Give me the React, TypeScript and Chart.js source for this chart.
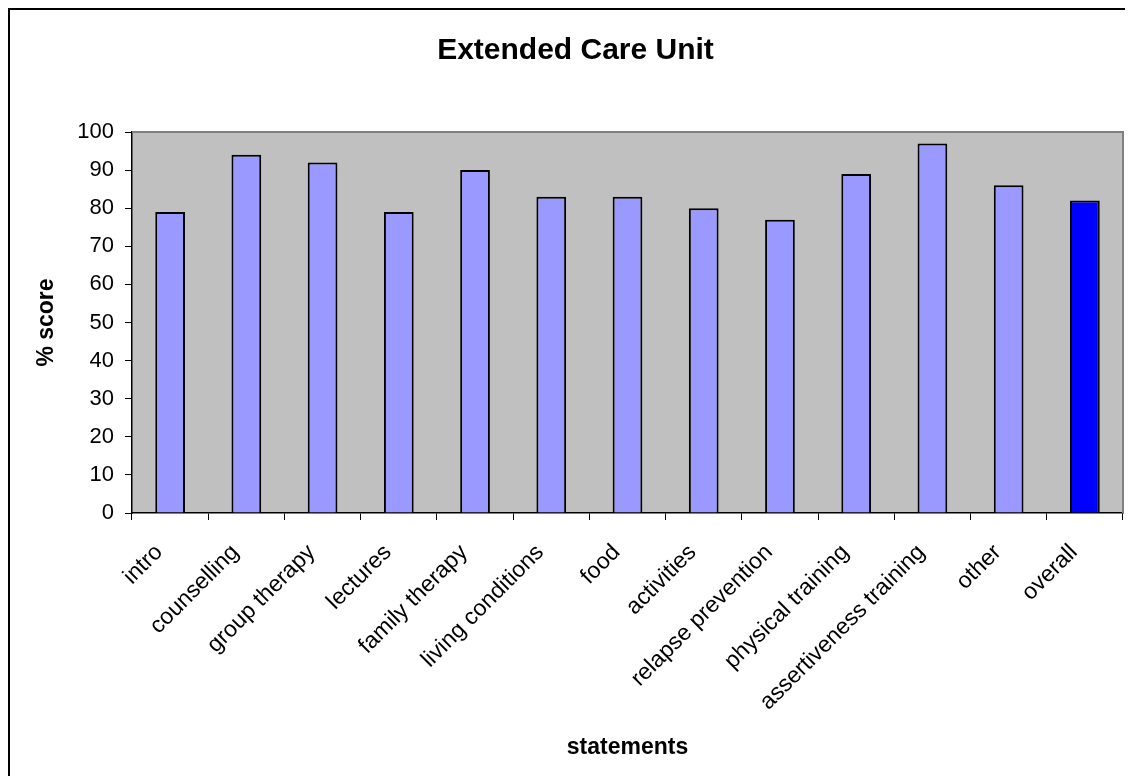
import React, { useEffect, useRef } from "react";
import { Chart, registerables } from "chart.js";

Chart.register(...registerables);

const chartTitle = "Extended Care Unit";
const xAxisTitle = "statements";
const yAxisTitle = "% score";
const categories = [
  "intro",
  "counselling",
  "group therapy",
  "lectures",
  "family therapy",
  "living conditions",
  "food",
  "activities",
  "relapse prevention",
  "physical training",
  "assertiveness training",
  "other",
  "overall",
];
const scores = [79, 94, 92, 79, 90, 83, 83, 80, 77, 89, 97, 86, 82];
const highlighted = ["overall"];
const yMin = 0;
const yMax = 100;
const yStep = 10;

const FONT = "'Liberation Sans', Arial, Helvetica, sans-serif";

const plotBackground = {
  id: "plotBackground",
  beforeDraw(chart: any) {
    const { ctx, chartArea } = chart;
    if (!chartArea) return;
    ctx.save();
    ctx.fillStyle = "#C0C0C0";
    ctx.fillRect(chartArea.left, chartArea.top, chartArea.right - chartArea.left, chartArea.bottom - chartArea.top);
    ctx.restore();
  },
  beforeDatasetsDraw(chart: any) {
    const { ctx, chartArea } = chart;
    if (!chartArea) return;
    ctx.save();
    ctx.strokeStyle = "#808080";
    ctx.lineWidth = 2;
    ctx.beginPath();
    ctx.moveTo(chartArea.left, chartArea.top);
    ctx.lineTo(chartArea.right, chartArea.top);
    ctx.lineTo(chartArea.right, chartArea.bottom);
    ctx.stroke();
    ctx.restore();
  },
};

export default function App() {
  const canvasRef = useRef<HTMLCanvasElement | null>(null);

  useEffect(() => {
    if (!canvasRef.current) return;
    const colors = categories.map((c) => (highlighted.includes(c) ? "#0000FF" : "#9999FF"));
    const chart = new Chart(canvasRef.current, {
      type: "bar",
      data: {
        labels: categories,
        datasets: [
          {
            label: yAxisTitle,
            data: scores,
            backgroundColor: colors,
            borderColor: "#000000",
            borderWidth: 2,
            barPercentage: 0.39,
            categoryPercentage: 1,
          },
        ],
      },
      plugins: [plotBackground],
      options: {
        animation: false,
        responsive: true,
        maintainAspectRatio: false,
        layout: { padding: { left: 18, right: 18, top: 0, bottom: 0 } },
        plugins: {
          legend: { display: false },
          tooltip: { enabled: false },
          title: {
            display: true,
            text: chartTitle,
            color: "#000000",
            font: { family: FONT, size: 30, weight: "bold", lineHeight: 1.2 },
            padding: { top: 23, bottom: 63 },
          },
        },
        scales: {
          x: {
            afterFit(scale: any) {
              scale.height = 263;
            },
            grid: {
              display: true,
              drawOnChartArea: false,
              drawTicks: true,
              tickLength: 7,
              color: "#000000",
              lineWidth: 1,
              offset: true,
            },
            border: { display: true, color: "#000000", width: 1.5 },
            ticks: {
              autoSkip: false,
              maxRotation: 45,
              minRotation: 45,
              padding: 19,
              labelOffset: -11,
              color: "#000000",
              font: { family: FONT, size: 23, lineHeight: 1.2 },
            },
            title: {
              display: true,
              text: xAxisTitle,
              color: "#000000",
              font: { family: FONT, size: 23, weight: "bold", lineHeight: 1.2 },
              padding: { top: 0, bottom: 15 },
            },
          },
          y: {
            min: yMin,
            max: yMax,
            afterFit(scale: any) {
              scale.width = 104;
            },
            grid: {
              display: true,
              drawOnChartArea: false,
              drawTicks: true,
              tickLength: 7,
              color: "#000000",
              lineWidth: 1,
            },
            border: { display: true, color: "#000000", width: 1.5 },
            ticks: {
              stepSize: yStep,
              padding: 11,
              color: "#000000",
              font: { family: FONT, size: 22, lineHeight: 1.2 },
            },
            title: {
              display: true,
              text: yAxisTitle,
              color: "#000000",
              font: { family: FONT, size: 23, weight: "bold", lineHeight: 1.2 },
              padding: { top: 5, bottom: 0 },
            },
          },
        },
      },
    } as any);
    return () => chart.destroy();
  }, []);

  return (
    <div
      style={{
        width: 1125,
        height: 768,
        boxSizing: "border-box",
        borderTop: "2px solid #000",
        borderLeft: "2px solid #000",
        overflow: "hidden",
        background: "#fff",
      }}
    >
      <div style={{ position: "relative", width: 1131, height: 766 }}>
        <canvas ref={canvasRef} />
      </div>
    </div>
  );
}
